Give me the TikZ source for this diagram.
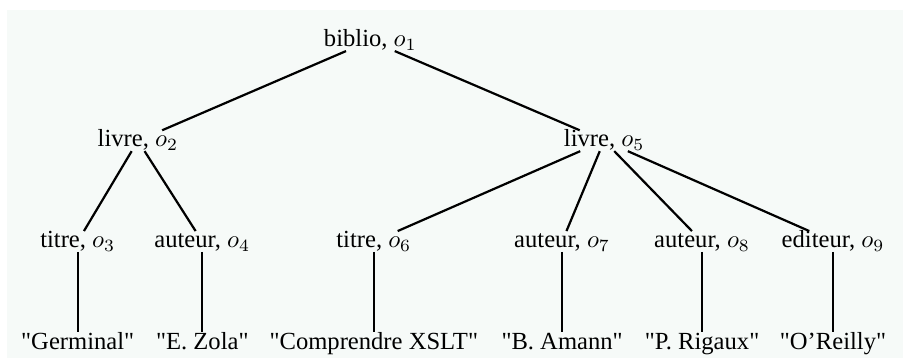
\documentclass[tikz,border=0pt]{standalone}
\usepackage{fontspec}
\setmainfont{Liberation Serif}[Ligatures=TeXOff]
\usetikzlibrary{positioning}
\definecolor{xmlpaper}{RGB}{246,250,248}

\begin{document}
\begin{tikzpicture}[
  node distance=1.15cm,
  elem/.style={inner sep=0pt, text height=6.6pt, text depth=1.5pt, font=\fontsize{10}{12}\selectfont},
  val/.style={elem},
  link/.style={line width=0.9pt},
]
\useasboundingbox (0,0) rectangle (12.914,-5.143);
\fill[xmlpaper] (0.1,-0.143) rectangle (12.9,-5.114);
% element nodes
\node[elem] (o1) at (5.29,-0.58) {biblio, $o_1$};
\node[elem] (o2) at (1.97,-2.01) {livre, $o_2$};
\node[elem] (o5) at (8.63,-2.01) {livre, $o_5$};
\node[elem] (o3) at (1.11,-3.45) {titre, $o_3$};
\node[elem] (o4) at (2.89,-3.45) {auteur, $o_4$};
\node[elem] (o6) at (5.34,-3.45) {titre, $o_6$};
\node[elem] (o7) at (8.03,-3.45) {auteur, $o_7$};
\node[elem] (o8) at (10.03,-3.45) {auteur, $o_8$};
\node[elem] (o9) at (11.9,-3.45) {editeur, $o_9$};
% text values
\node[val, below=of o3] (v3) {"Germinal"};
\node[val, below=of o4] (v4) {"E. Zola"};
\node[val, below=of o6] (v6) {"Comprendre XSLT"};
\node[val, below=of o7] (v7) {"B. Amann"};
\node[val, below=of o8] (v8) {"P. Rigaux"};
\node[val, below=of o9] (v9) {"O’Reilly"};
% tree edges
\draw[link] (o1) -- (o2) (o1) -- (o5);
\draw[link] (o2) -- (o3) (o2) -- (o4);
\draw[link] (o5) -- (o6) (o5) -- (o7) (o5) -- (o8) (o5) -- (o9);
\draw[link] (o3) -- (v3) (o4) -- (v4) (o6) -- (v6);
\draw[link] (o7) -- (v7) (o8) -- (v8) (o9) -- (v9);
\end{tikzpicture}
\end{document}
